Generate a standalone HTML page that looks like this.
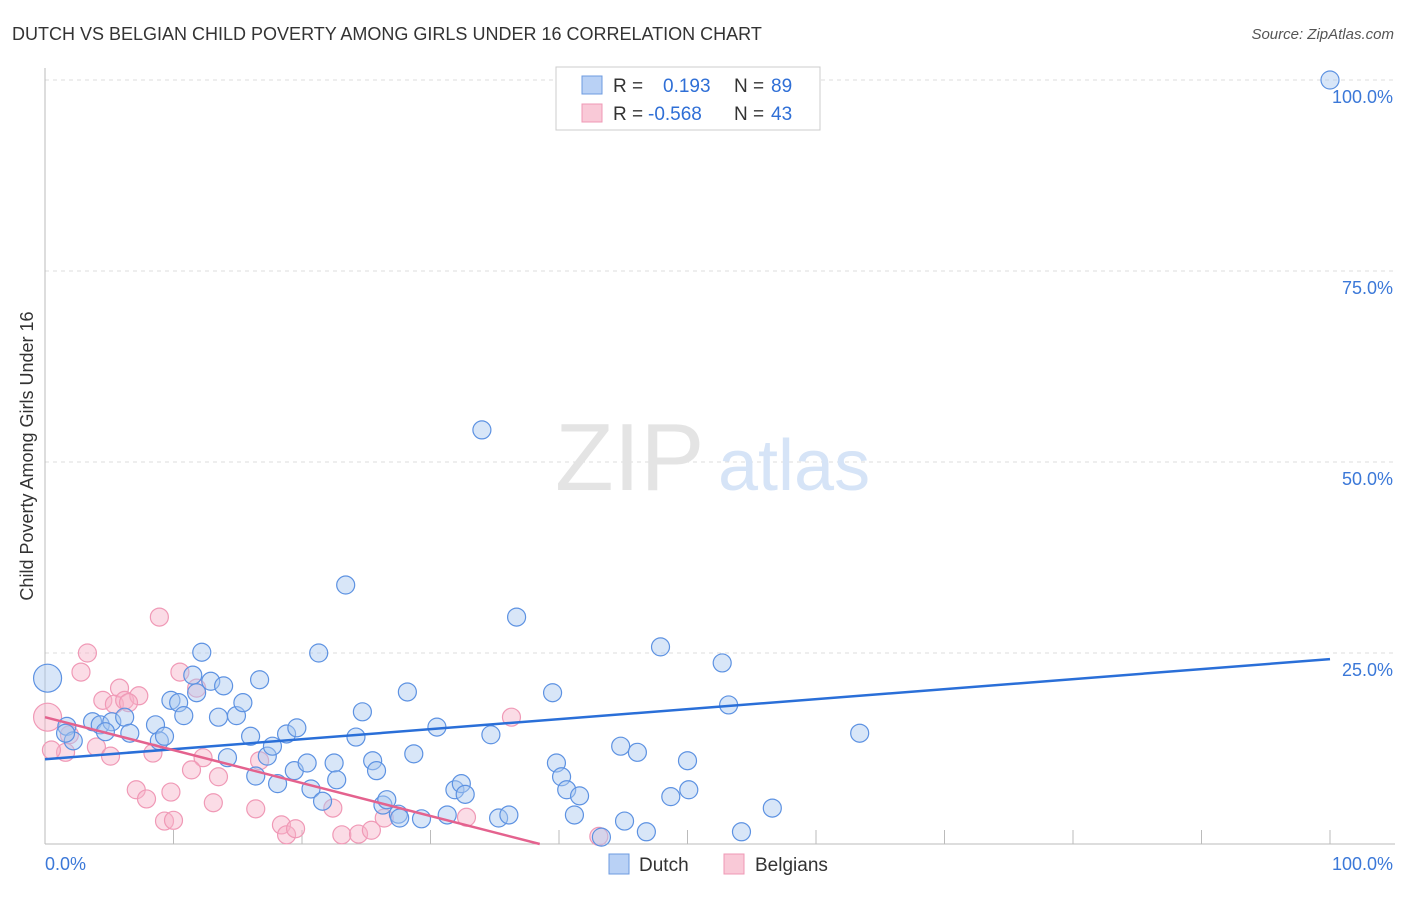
<!DOCTYPE html>
<html><head><meta charset="utf-8"><style>
body{margin:0;background:#fff;font-family:"Liberation Sans",sans-serif}
svg text{font-family:"Liberation Sans",sans-serif}
</style></head><body>
<svg id="chart" width="1406" height="892">
<text x="12" y="40" font-size="18" fill="#333">DUTCH VS BELGIAN CHILD POVERTY AMONG GIRLS UNDER 16 CORRELATION CHART</text>
<text x="1394" y="39" font-size="15" fill="#555" text-anchor="end" font-style="italic">Source: ZipAtlas.com</text>
<text x="0" y="0" font-size="18" fill="#333" text-anchor="middle" transform="translate(33,456) rotate(-90)">Child Poverty Among Girls Under 16</text>
<g id="grid"></g>
<text x="555" y="490" font-size="96" fill="#e4e4e4" font-family="Liberation Serif">ZIP</text>
<text x="718" y="490" font-size="72" fill="#d6e4f7">atlas</text>
<g id="pts"></g>
<g id="lines"></g>
<g>
<rect x="556" y="67" width="264" height="63" fill="#fff" stroke="#ccc"/>
<rect x="582" y="76" width="20" height="18" fill="#b9d1f5" stroke="#6d9be0"/>
<rect x="582" y="104" width="20" height="18" fill="#f9c9d7" stroke="#ef98b5"/>
<text x="613" y="92" font-size="19" fill="#333">R = </text><text x="663" y="92" font-size="19" fill="#2f6fd6">0.193</text>
<text x="734" y="92" font-size="19" fill="#333">N = </text><text x="771" y="92" font-size="19" fill="#2f6fd6">89</text>
<text x="613" y="120" font-size="19" fill="#333">R = </text><text x="648" y="120" font-size="19" fill="#2f6fd6">-0.568</text>
<text x="734" y="120" font-size="19" fill="#333">N = </text><text x="771" y="120" font-size="19" fill="#2f6fd6">43</text>
</g>
<g>
<rect x="609" y="854" width="20" height="20" fill="#b9d1f5" stroke="#6d9be0"/>
<text x="639" y="871" font-size="19" fill="#333">Dutch</text>
<rect x="724" y="854" width="20" height="20" fill="#f9c9d7" stroke="#ef98b5"/>
<text x="755" y="871" font-size="19" fill="#333">Belgians</text>
</g>
</svg>
<script>
const dutchX=[0.2,1.7,2.2,1.6,3.7,4.3,5.2,6.2,4.7,6.6,8.6,8.9,9.3,9.8,10.4,10.8,12.2,11.5,12.9,13.9,11.8,13.5,14.9,15.4,16.7,16.0,14.2,17.3,17.7,16.4,18.1,18.8,19.6,19.4,20.4,20.7,21.6,22.5,22.7,21.3,23.4,24.2,24.7,25.5,25.8,26.3,26.6,27.5,27.6,28.2,28.7,29.3,30.5,31.3,31.9,32.4,32.7,34.0,34.7,35.3,36.1,36.7,39.5,39.8,40.2,40.6,41.6,41.2,43.3,44.8,46.1,45.1,46.8,47.9,48.7,50.0,50.1,52.7,53.2,54.2,56.6,63.4,100];
const dutchY=[21.7,15.4,13.5,14.5,16.0,15.6,16.0,16.6,14.7,14.5,15.6,13.5,14.1,18.8,18.5,16.8,25.1,22.1,21.3,20.7,19.8,16.6,16.8,18.5,21.5,14.1,11.3,11.5,12.8,8.9,7.9,14.4,15.2,9.6,10.6,7.2,5.6,10.6,8.4,25.0,33.9,14.0,17.3,10.9,9.6,5.1,5.8,3.9,3.4,19.9,11.8,3.3,15.3,3.8,7.1,7.9,6.5,54.2,14.3,3.4,3.8,29.7,19.8,10.6,8.8,7.1,6.3,3.8,0.9,12.8,12.0,3.0,1.6,25.8,6.2,10.9,7.1,23.7,18.2,1.6,4.7,14.5,100];
const belgX=[0.2,8.9,3.3,2.8,4.5,5.8,5.4,6.2,7.3,6.5,10.5,11.8,4.0,5.1,1.6,0.5,8.4,12.3,11.4,13.5,7.1,7.9,9.8,13.1,16.4,9.3,10.0,16.7,18.4,18.8,19.5,22.4,23.1,24.4,25.4,26.4,32.8,36.3,43.1,1.9];
const belgY=[16.6,29.7,25.0,22.5,18.8,20.4,18.3,18.8,19.4,18.5,22.5,20.4,12.7,11.5,12.0,12.3,11.9,11.3,9.7,8.8,7.1,5.9,6.8,5.4,4.6,3.0,3.1,10.9,2.5,1.2,2.0,4.7,1.2,1.3,1.8,3.4,3.5,16.6,1.0,14.3];
const dutchTrend=[11.1,24.2];   // y at x=0 and x=100
const belgTrend=[16.6,0,38.5]; // y at x=0, y end, x end
const yTicks=[25,50,75,100];
const yTickLabels=["25.0%","50.0%","75.0%","100.0%"];
const xTicks=[10,20,30,40,50,60,70,80,90,100];
const NS="http://www.w3.org/2000/svg";
const X=v=>45+v*12.85, Y=v=>844-v*7.64;
function mk(tag,attrs,parent){const e=document.createElementNS(NS,tag);for(const k in attrs)e.setAttribute(k,attrs[k]);parent.appendChild(e);return e;}
const grid=document.getElementById('grid');
yTicks.forEach((t,i)=>{
 const l=mk('line',{x1:45,x2:1395,y1:Y(t),y2:Y(t),stroke:'#ddd','stroke-dasharray':'4,4'},grid);
 
 
 const tx=mk('text',{x:1393,y:Y(t)+23,'font-size':18,fill:'#3b78d8','text-anchor':'end'},grid);
 tx.textContent=yTickLabels[i];
 
 
});
const ax=mk('line',{x1:45,x2:45,y1:68,y2:844,stroke:'#bbb'},grid);


const bx=mk('line',{x1:45,x2:1395,y1:844,y2:844,stroke:'#bbb'},grid);


xTicks.forEach(t=>{
 const l=mk('line',{x1:X(t),x2:X(t),y1:830,y2:844,stroke:'#bbb'},grid);
 
 
});
const x0=mk('text',{x:45,y:870,'font-size':18,fill:'#3b78d8'},grid);x0.textContent='0.0%';


const x1=mk('text',{x:1393,y:870,'font-size':18,fill:'#3b78d8','text-anchor':'end'},grid);x1.textContent='100.0%';


const pts=document.getElementById('pts');
belgX.forEach((x,i)=>{
 const c=mk('circle',{cx:X(x),cy:Y(belgY[i]),r:i==0?14:9,fill:'rgba(246,178,200,0.45)',stroke:'#f099b6','stroke-width':1.2},pts);
 
 
});
dutchX.forEach((x,i)=>{
 const c=mk('circle',{cx:X(x),cy:Y(dutchY[i]),r:i==0?14:9,fill:'rgba(168,199,240,0.45)',stroke:'#5d92e2','stroke-width':1.2},pts);
 
 
});
const lines=document.getElementById('lines');
const dl=mk('line',{x1:X(0),y1:Y(dutchTrend[0]),x2:X(100),y2:Y(dutchTrend[1]),stroke:'#2a6fd8','stroke-width':2.5},lines);


const bl=mk('line',{x1:X(0),y1:Y(belgTrend[0]),x2:X(belgTrend[2]),y2:Y(belgTrend[1]),stroke:'#e4628e','stroke-width':2.5},lines);


</script>
</body></html>
